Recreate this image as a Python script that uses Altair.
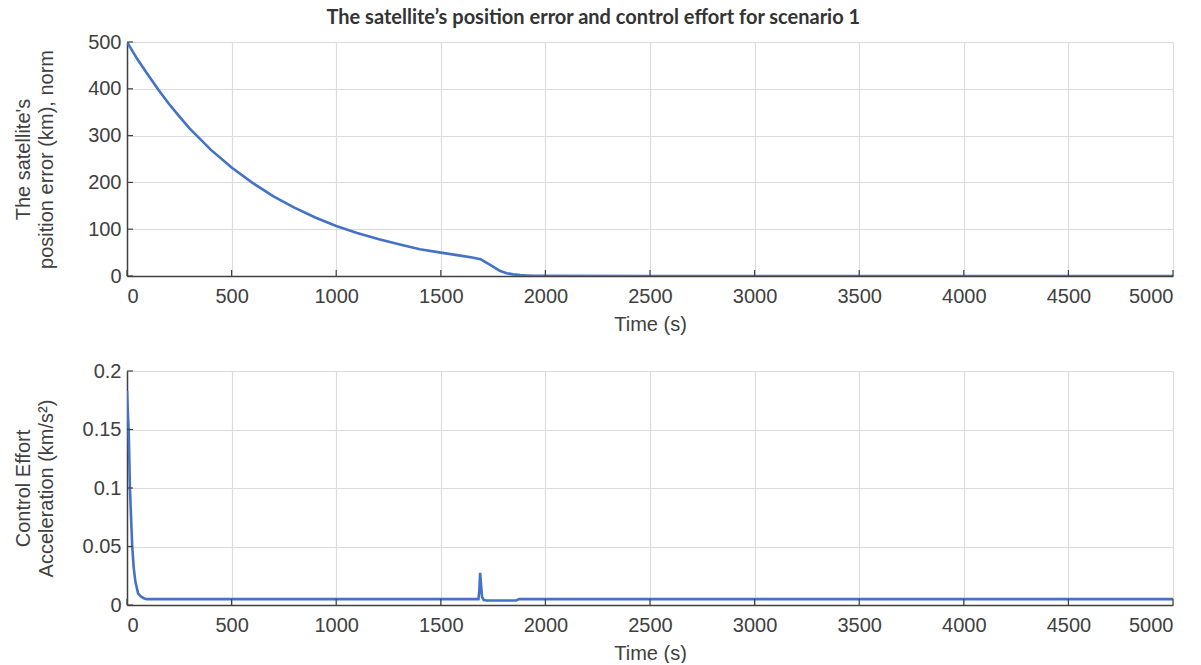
import altair as alt
import pandas as pd

# ---- data ----
t_pos = [0, 50, 100, 150, 200, 250, 300, 400, 500, 600, 700, 800, 900, 1000,
         1100, 1200, 1300, 1400, 1500, 1600, 1650, 1690, 1705, 1720, 1750,
         1782, 1815, 1845, 1880, 1910, 1950, 2000, 2500, 3000, 3500, 4000, 4500, 5000]
pos_err = [500, 463, 430, 398, 368, 341, 315, 270, 232, 199, 170, 146, 125, 107,
           92, 79, 68, 57, 50, 43, 39.5, 36, 32, 28, 20,
           11, 6, 3.5, 2, 1.2, 0.5, 0.2, 0, 0, 0, 0, 0, 0]

t_acc = [0, 4, 8, 14, 20, 25, 32, 40, 53, 65, 80, 95, 120, 1680, 1684, 1688,
         1692, 1697, 1705, 1720, 1780, 1860, 1875, 1950, 5000]
acc = [0.183, 0.165, 0.15, 0.1, 0.072, 0.05, 0.032, 0.02, 0.01, 0.0075, 0.0058,
       0.005, 0.005, 0.005, 0.012, 0.0275, 0.018, 0.007, 0.0042, 0.0038, 0.0038,
       0.0039, 0.005, 0.005, 0.005]

x_ticks = [0, 500, 1000, 1500, 2000, 2500, 3000, 3500, 4000, 4500, 5000]
y1_ticks = [0, 100, 200, 300, 400, 500]
y2_ticks = [0, 0.05, 0.1, 0.15, 0.2]

title_text = "The satellite\u2019s position error and control effort for scenario 1"
y1_title = ["The satellite's", "position error (km), norm"]
y2_title = ["Control Effort", "Acceleration (km/s\u00b2)"]
x_title = "Time (s)"

BLUE = "#4472c4"
AX = "#404040"
FONT = "Liberation Sans"
W, H = 1046, 234

pos_df = pd.DataFrame({"t": t_pos, "v": pos_err})
acc_df = pd.DataFrame({"t": t_acc, "v": acc})


def panel(df, ydom, yticks, ytitle, ttx):
    xs = alt.Scale(domain=[0, 5000], nice=False, zero=False)
    ys = alt.Scale(domain=ydom, nice=False)
    xa = alt.Axis(values=x_ticks, title=x_title, format="d",
                  labelPadding=10, titlePadding=8)
    ya = alt.Axis(values=yticks, title=ytitle, format="~f", labelPadding=6,
                  titleX=ttx, titleY=H / 2, titleAngle=-90,
                  titleBaseline="bottom", titleAlign="center")
    line = alt.Chart(df).mark_line(color=BLUE, strokeWidth=2.6, clip=True).encode(
        x=alt.X("t:Q", scale=xs, axis=xa),
        y=alt.Y("v:Q", scale=ys, axis=ya),
    )
    xt = alt.Chart(pd.DataFrame({"t": x_ticks})).mark_rule(color=AX, strokeWidth=1.2).encode(
        x=alt.X("t:Q", scale=xs, axis=xa),
        y=alt.value(H), y2=alt.value(H - 6),
    )
    yt = alt.Chart(pd.DataFrame({"v": yticks})).mark_rule(color=AX, strokeWidth=1.2).encode(
        y=alt.Y("v:Q", scale=ys, axis=ya),
        x=alt.value(0), x2=alt.value(6),
    )
    return alt.layer(line, xt, yt).properties(width=W, height=H)


top = panel(pos_df, [0, 500], y1_ticks, y1_title, -94)
bottom = panel(acc_df, [0, 0.2], y2_ticks, y2_title, -94)

chart = alt.vconcat(top, bottom, spacing=27).properties(
    title=alt.TitleParams(title_text, font="Lato", fontSize=20, fontWeight="bold",
                          color="#333333", anchor="middle", offset=4),
    padding={"left": 12, "top": 8, "right": 4, "bottom": 0},
).configure(font=FONT).configure_view(stroke=None).configure_axis(
    labelFont=FONT, labelFontSize=20, labelColor=AX,
    titleFont=FONT, titleFontSize=20, titleFontWeight="normal",
    titleColor=AX, gridColor="#dcdcdc", gridWidth=1.2, domainColor=AX,
    domainWidth=1.5, ticks=False, titleLineHeight=23,
)

chart.save("out.html", embed_options={"renderer": "svg", "actions": False})
